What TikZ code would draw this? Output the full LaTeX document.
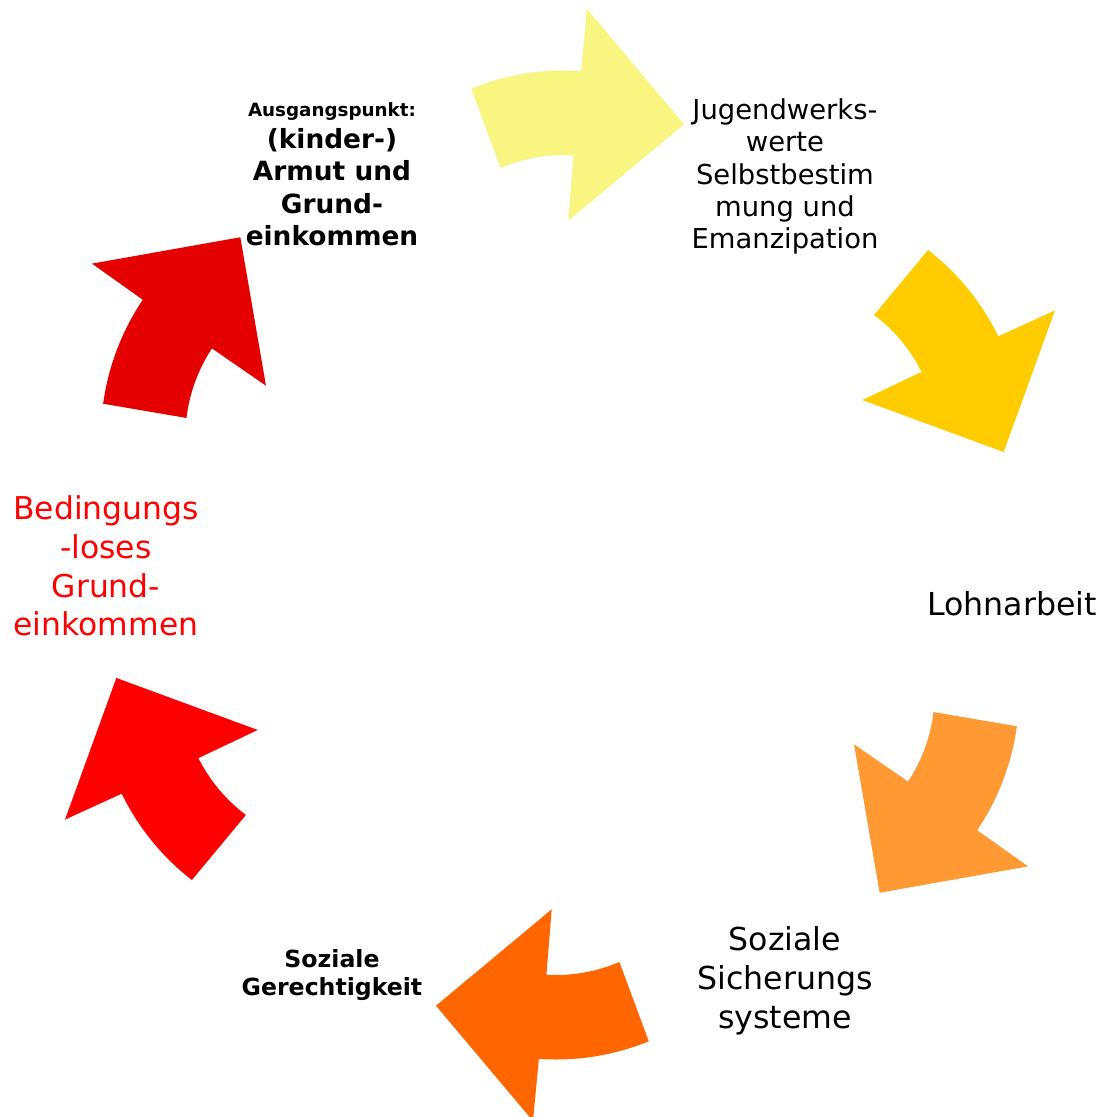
\documentclass[tikz,border=0pt]{standalone}
\usepackage{fontspec}
\setmainfont{DejaVu Sans}
\definecolor{arrA}{HTML}{F8F580}
\definecolor{arrB}{HTML}{FFCC00}
\definecolor{arrC}{HTML}{FF9933}
\definecolor{arrD}{HTML}{FF6600}
\definecolor{arrE}{HTML}{FF0000}
\definecolor{arrF}{HTML}{E50000}
\definecolor{redtext}{HTML}{FF0000}
\newcommand\cyclearrowshape[2]{%
  \fill[#2, rotate=#1] (-88.76,476.30) arc[start angle=112.2, end angle=86, radius=245.5pt]
    -- (27,556) -- (124,440.7) -- (8.3,344.3) -- (13.55,409.72)
    arc[start angle=86.6, end angle=113.2, radius=161pt] -- cycle;}
\begin{document}
\begin{tikzpicture}[x=1pt,y=1pt]
\tikzset{lbl/.style={align=center, inner sep=0pt}}
\useasboundingbox (-560,-552) rectangle (541,565);
\cyclearrowshape{0}{arrA}
\cyclearrowshape{-60}{arrB}
\cyclearrowshape{-120}{arrC}
\cyclearrowshape{-180}{arrD}
\cyclearrowshape{-240}{arrE}
\cyclearrowshape{-300}{arrF}
\node[lbl, font=\fontsize{26.4}{32.3}\selectfont\bfseries] (start) at (-228,391)
  {{\fontsize{18.3}{22}\selectfont Ausgangspunkt:}\\(kinder-)\\Armut und\\Grund-\\einkommen};
\node[lbl, font=\fontsize{27.4}{32.3}\selectfont] (werte) at (225,388.5)
  {Jugendwerks-\\werte\\Selbstbestim\\mung und\\Emanzipation};
\node[lbl, font=\fontsize{31.6}{38}\selectfont] (lohn) at (452,-39) {Lohnarbeit};
\node[lbl, font=\fontsize{31.6}{39}\selectfont] (sicher) at (225,-415.5)
  {Soziale\\Sicherungs\\systeme};
\node[lbl, font=\fontsize{23.6}{28}\selectfont\bfseries] (gerecht) at (-228,-410)
  {Soziale\\Gerechtigkeit};
\node[lbl, text=redtext, font=\fontsize{31.4}{38.7}\selectfont] (bge) at (-454,-1)
  {Bedingungs\\-loses\\Grund-\\einkommen};
\end{tikzpicture}
\end{document}
